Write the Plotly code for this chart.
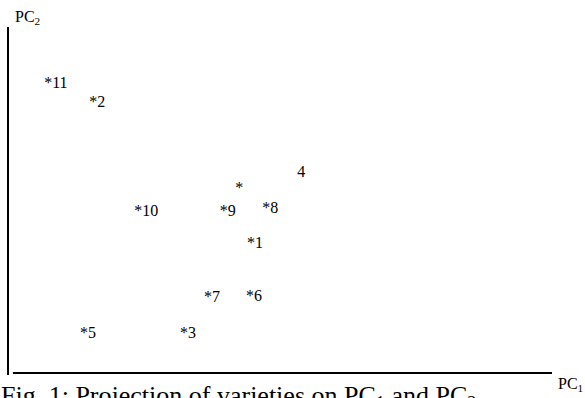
import plotly.graph_objects as go

labels = ["*11", "*2", "4", "*", "*9", "*8", "*10", "*1", "*7", "*6", "*5", "*3"]
pc1 = [0.88, 1.64, 5.39, 4.25, 4.04, 4.82, 2.54, 4.54, 3.75, 4.52, 1.47, 3.31]
pc2 = [8.36, 7.81, 5.77, 5.31, 4.66, 4.75, 4.66, 3.74, 2.18, 2.20, 1.13, 1.13]

FONT = "Liberation Serif"

fig = go.Figure(go.Scatter(
    x=pc1, y=pc2, mode="text", text=labels,
    textposition="middle center",
    textfont=dict(family=FONT, size=16, color="black"),
    hoverinfo="skip",
))

axis_common = dict(showgrid=False, zeroline=False, showticklabels=False,
                   ticks="", showline=False)
fig.update_xaxes(range=[0, 10], **axis_common)
fig.update_yaxes(range=[0, 10], **axis_common)

fig.update_layout(
    width=585, height=398,
    margin=dict(l=8, r=33, t=27, b=25),
    plot_bgcolor="white", paper_bgcolor="white",
    showlegend=False,
    shapes=[
        dict(type="line", xref="paper", yref="paper", x0=0, x1=0, y0=-0.006, y1=1,
             line=dict(color="black", width=2)),
        dict(type="line", xref="paper", yref="paper", x0=0.009, x1=1, y0=0, y1=0,
             line=dict(color="black", width=2)),
    ],
    annotations=[
        dict(text="PC<sub>2</sub>", xref="paper", yref="paper", x=0.01, y=1.06,
             xanchor="left", yanchor="top", showarrow=False,
             font=dict(family=FONT, size=16, color="black")),
        dict(text="PC<sub>1</sub>", xref="paper", yref="paper", x=1.008, y=0.0,
             xanchor="left", yanchor="top", showarrow=False,
             font=dict(family=FONT, size=16, color="black")),
        dict(text="Fig. 1: Projection of varieties on PC<sub>1</sub> and PC<sub>2</sub>",
             xref="paper", yref="paper", x=-0.017, y=-0.016,
             xanchor="left", yanchor="top", showarrow=False,
             font=dict(family=FONT, size=26, color="black")),
    ],
)

fig.write_html("out.html", config={"displayModeBar": False},
               post_script="document.body.style.margin='0';document.body.style.overflow='hidden';")
